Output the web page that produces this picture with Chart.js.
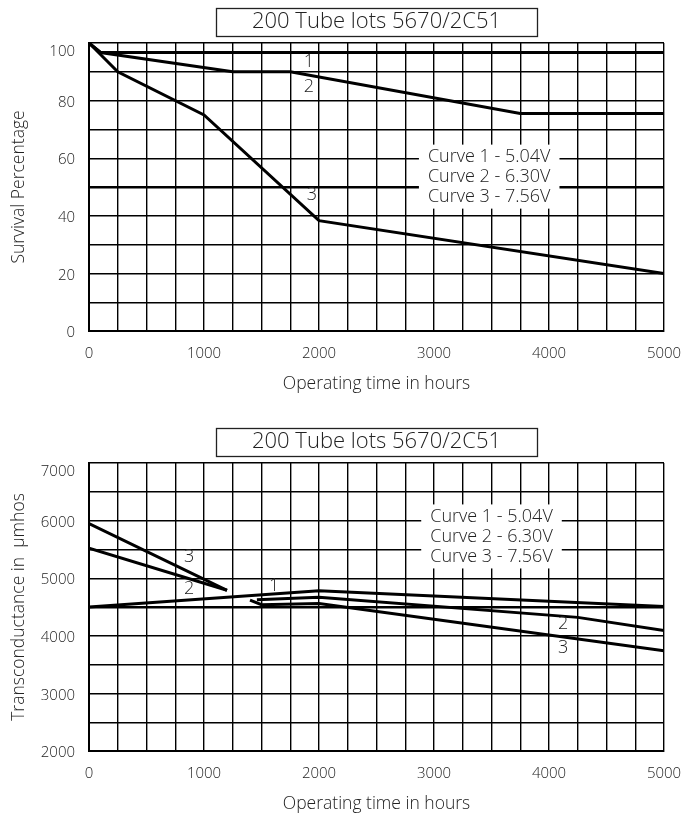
<!DOCTYPE html>
<html>
<head>
<meta charset="utf-8">
<script src="https://cdn.jsdelivr.net/npm/chart.js@4/dist/chart.umd.min.js"></script>
<style>
  html, body { margin: 0; padding: 0; background: #fff; overflow: hidden; }
  #wrap { position: relative; width: 686px; height: 813px; }
  canvas { position: absolute; left: 0; }
  #c1 { top: 0; }
  #c2 { top: 420px; }
</style>
</head>
<body>
<div id="wrap">
  <canvas id="c1" width="686" height="400"></canvas>
  <canvas id="c2" width="686" height="400"></canvas>
</div>
<script>
// ---------- DATA ----------
const chartTitle = "200 Tube lots 5670/2C51";
const xAxisTitle = "Operating time in hours";
const survivalTitle = "Survival Percentage";
const gmTitle = "Transconductance in  \u00b5mhos";
const legendLines = ["Curve 1 - 5.04V", "Curve 2 - 6.30V", "Curve 3 - 7.56V"];

// Top chart: survival percentage
const survHours1 = [0, 100, 5000];
const survPct1   = [100, 96.7, 96.7];
const survHours2 = [0, 100, 1250, 1750, 3750, 5000];
const survPct2   = [100, 96.7, 90, 90, 75.5, 75.5];
const survHours3 = [0, 250, 1000, 2000, 5000];
const survPct3   = [100, 90, 75, 38.3, 20];

// Bottom chart: transconductance (null = break in the curve)
const gmHours1 = [0, 2000, 5000];
const gmVal1   = [4500, 4780, 4510];
const gmHours2 = [0, 1200, 1330, 1460, 2000, 4250, 5000];
const gmVal2   = [5520, 4790, null, 4625, 4670, 4320, 4090];
const gmHours3 = [0, 1200, 1300, 1400, 1500, 2000, 5000];
const gmVal3   = [5950, 4790, null, 4620, 4540, 4560, 3740];

// Curve number labels [text, hours, value]
const survCurveLabels = [["1", 1913, 93.5], ["2", 1913, 84.8], ["3", 1939, 47.3]];
const gmCurveLabels = [["3", 870, 5378], ["2", 870, 4820], ["1", 1609, 4872], ["2", 4122, 4209], ["3", 4122, 3791]];
// Legend anchor (centre of middle line) [hours, value]
const survLegendAt = [3480, 53.6];
const gmLegendAt = [3500, 5725];

// ---------- RENDER ----------
const FONT = "'Open Sans', Lato, 'DejaVu Sans', sans-serif";
const INK = "#000";
const TXT = "#222";
const TICK_FONT = { family: FONT, size: 15, weight: 300 };

function pts(xs, ys) { return xs.map((x, i) => ({ x: x, y: ys[i] })); }

const notesPlugin = {
  id: 'notes',
  afterDatasetsDraw(chart, args, opts) {
    const ctx = chart.ctx;
    const xs = chart.scales.x, ys = chart.scales.y;
    ctx.save();
    // legend box
    const cx = xs.getPixelForValue(opts.legendAt[0]);
    const cy = ys.getPixelForValue(opts.legendAt[1]);
    const lh = 20;
    ctx.font = "300 18px " + FONT;
    let w = 0;
    opts.legend.forEach(t => { w = Math.max(w, ctx.measureText(t).width); });
    ctx.fillStyle = "#fff";
    ctx.fillRect(cx - w / 2 - 9, cy - lh * 1.5 - 2, w + 18, lh * 3 + 4);
    ctx.fillStyle = TXT;
    ctx.textAlign = "center";
    ctx.textBaseline = "middle";
    opts.legend.forEach((t, i) => ctx.fillText(t, cx, cy + (i - 1) * lh));
    // curve labels
    opts.labels.forEach(l => {
      ctx.fillText(l[0], xs.getPixelForValue(l[1]), ys.getPixelForValue(l[2]));
    });
    // top y tick label, drawn slightly inside the frame
    ctx.font = "300 15px " + FONT;
    ctx.textAlign = "right";
    ctx.fillText(String(ys.max), chart.chartArea.left - 14, ys.getPixelForValue(ys.max) + 9);
    ctx.restore();
  },
  afterDraw(chart) {
    // frame around the title
    const ctx = chart.ctx;
    ctx.save();
    ctx.font = "300 22px " + FONT;
    const tw = ctx.measureText(chart.options.plugins.title.text).width;
    const cx = (chart.chartArea.left + chart.chartArea.right) / 2;
    const w = tw + 72, h = 28;
    ctx.strokeStyle = "#222";
    ctx.lineWidth = 1.3;
    ctx.strokeRect(Math.round(cx - w / 2) + 0.5, 8.5, Math.round(w), h);
    ctx.restore();
  }
};

function makeChart(id, datasets, yMin, yMax, yStep, yLabelStep, yMid, yTitle, labels, legendAt) {
  return new Chart(document.getElementById(id), {
    type: 'line',
    data: { datasets: datasets.map(d => ({
      data: d, borderColor: INK, borderWidth: 3, pointRadius: 0, tension: 0,
      fill: false, spanGaps: false, borderJoinStyle: 'miter', borderCapStyle: 'butt'
    })) },
    options: {
      responsive: false, animation: false, devicePixelRatio: 1,
      layout: { padding: { left: 0, right: 22, top: 0, bottom: 0 } },
      plugins: {
        legend: { display: false },
        tooltip: { enabled: false },
        title: {
          display: true, text: chartTitle, color: "#222", fullSize: false,
          font: { family: FONT, size: 22, weight: 300, lineHeight: 1.1 },
          padding: { top: 10, bottom: 8.8 }
        },
        notes: { labels: labels, legend: legendLines, legendAt: legendAt }
      },
      scales: {
        x: {
          type: 'linear', min: 0, max: 5000,
          afterFit(s) { s.height = 69; s.paddingLeft = 0; s.paddingRight = 0; },
          ticks: {
            stepSize: 250, autoSkip: false, maxRotation: 0, padding: 14,
            color: TXT, font: TICK_FONT,
            callback: v => (v % 1000 === 0 ? String(v) : '')
          },
          grid: { color: INK, lineWidth: 1.4, drawTicks: false },
          border: { color: INK, width: 2 },
          title: { display: true, text: xAxisTitle, color: TXT,
            font: { family: FONT, size: 17.5, weight: 300 }, padding: { top: 0, bottom: 5.5 } }
        },
        y: {
          type: 'linear', min: yMin, max: yMax,
          afterFit(s) { s.width = 89; s.paddingTop = 0; s.paddingBottom = 0; },
          ticks: {
            stepSize: yStep, autoSkip: false, padding: 14, labelOffset: 2,
            color: TXT, font: TICK_FONT,
            callback: v => (v !== yMax && (v - yMin) % yLabelStep === 0 ? String(v) : '')
          },
          grid: { color: INK, drawTicks: false,
            lineWidth: c => (c.tick && c.tick.value === yMid ? 2.6 : 1.4) },
          border: { color: INK, width: 2 },
          title: { display: true, text: yTitle, color: TXT,
            font: { family: FONT, size: 17.5, weight: 300 }, padding: { top: 8.5, bottom: 0 } }
        }
      }
    },
    plugins: [notesPlugin]
  });
}

makeChart('c1',
  [pts(survHours1, survPct1), pts(survHours2, survPct2), pts(survHours3, survPct3)],
  0, 100, 10, 20, 50, survivalTitle, survCurveLabels, survLegendAt);

makeChart('c2',
  [pts(gmHours1, gmVal1), pts(gmHours2, gmVal2), pts(gmHours3, gmVal3)],
  2000, 7000, 500, 1000, 4500, gmTitle, gmCurveLabels, gmLegendAt);
</script>
</body>
</html>
